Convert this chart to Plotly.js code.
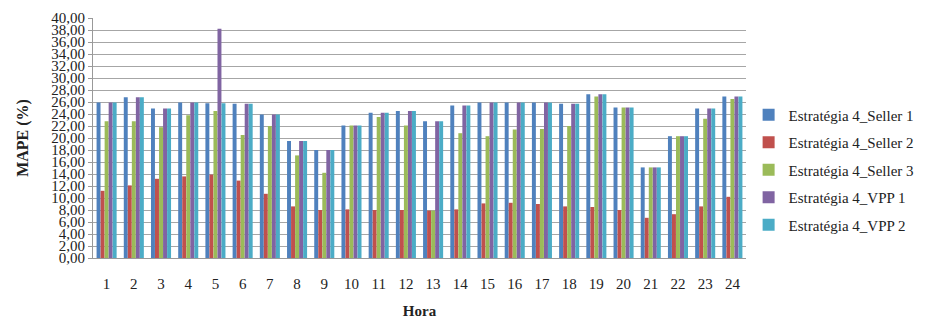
<!DOCTYPE html>
<html>
<head>
<meta charset="utf-8">
<script src="https://cdn.plot.ly/plotly-3.0.1.min.js"></script>
<style>html,body{margin:0;padding:0;background:#fff;}#chart{width:932px;height:323px;}</style>
</head>
<body>
<div id="chart"></div>
<script>
const hours = ["1","2","3","4","5","6","7","8","9","10","11","12","13","14","15","16","17","18","19","20","21","22","23","24"];
const seller1 = [25.9,26.8,24.9,25.9,25.8,25.7,23.9,19.5,18.0,22.1,24.2,24.5,22.8,25.4,25.9,25.9,25.9,25.7,27.3,25.1,15.1,20.3,24.9,26.9];
const seller2 = [11.2,12.1,13.2,13.6,13.9,12.9,10.7,8.6,8.0,8.1,8.0,8.0,7.9,8.1,9.1,9.2,9.0,8.6,8.5,8.0,6.7,7.3,8.6,10.2];
const seller3 = [22.8,22.8,21.8,23.8,24.5,20.5,22.0,17.1,14.2,22.1,23.5,22.1,7.9,20.8,20.3,21.4,21.5,22.0,26.9,25.1,15.1,20.3,23.2,26.5];
const vpp1 = [25.9,26.8,24.9,25.9,38.2,25.7,23.9,19.5,18.0,22.1,24.2,24.5,22.8,25.4,25.9,25.9,25.9,25.7,27.3,25.1,15.1,20.3,24.9,26.9];
const vpp2 = [25.9,26.8,24.9,25.9,25.8,25.7,23.9,19.5,18.0,22.1,24.2,24.5,22.8,25.4,25.9,25.9,25.9,25.7,27.3,25.1,15.1,20.3,24.9,26.9];
const seriesNames = ["Estratégia 4_Seller 1","Estratégia 4_Seller 2","Estratégia 4_Seller 3","Estratégia 4_VPP 1","Estratégia 4_VPP 2"];
const colors = ["#4F81BD","#C0504D","#9BBB59","#8064A2","#4BACC6"];
const values = [seller1, seller2, seller3, vpp1, vpp2];

const traces = values.map((v, i) => ({
  type: "bar",
  x: hours,
  y: v,
  name: seriesNames[i],
  legendgroup: "g" + i,
  marker: {color: colors[i], line: {width: 0}}
}));

const serif = "Liberation Serif";
const layout = {
  width: 932, height: 323,
  margin: {l: 93, r: 186, t: 18, b: 65},
  paper_bgcolor: "#fff", plot_bgcolor: "#fff",
  separators: ",.",
  barmode: "group",
  bargap: 0.26,
  bargroupgap: 0.02,
  font: {family: serif, color: "#222", size: 13},
  showlegend: true,
  legend: {
    x: 1.004, xanchor: "left", y: 0.367, yanchor: "middle",
    font: {family: serif, size: 15, color: "#222"},
    traceorder: "grouped", tracegroupgap: 5,
    itemwidth: 30
  },
  xaxis: {
    type: "category",
    showgrid: false,
    showline: true, linecolor: "#999", linewidth: 1,
    ticks: "",
    ticklabelstandoff: 12,
    tickfont: {family: serif, size: 15, color: "#222"},
    title: {text: "<b>Hora</b>", font: {family: serif, size: 15, color: "#222"}, standoff: 14},
    fixedrange: true
  },
  yaxis: {
    range: [0, 40], dtick: 2, tick0: 0,
    tickformat: ".2f",
    showgrid: true, gridcolor: "#a6a6a6", gridwidth: 1,
    showline: true, linecolor: "#999", linewidth: 1,
    ticks: "outside", ticklen: 4, tickcolor: "#999",
    tickfont: {family: serif, size: 15, color: "#222"},
    title: {text: "<b>MAPE (%)</b>", font: {family: serif, size: 16, color: "#222"}, standoff: 18},
    zeroline: false,
    fixedrange: true
  }
};

Plotly.newPlot("chart", traces, layout, {displayModeBar: false, staticPlot: true});
</script>
</body>
</html>
